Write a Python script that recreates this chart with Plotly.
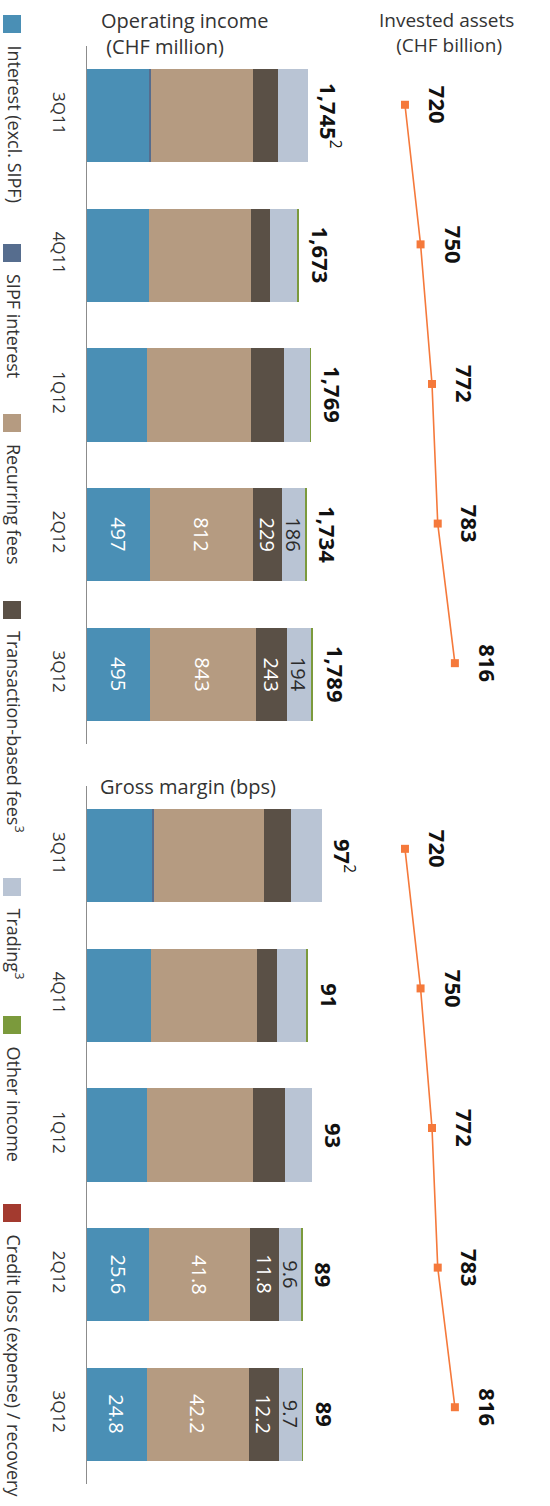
import plotly.graph_objects as go

# ---- data -------------------------------------------------------------
quarters = ["3Q11", "4Q11", "1Q12", "2Q12", "3Q12"]
labelled_quarters = ["2Q12", "3Q12"]

# Operating income, CHF million
inc_interest = [492, 490, 473, 497, 495]
inc_sipf = [14, 0, 0, 0, 0]
inc_recurring = [810, 806, 820, 812, 843]
inc_transaction = [195, 150, 268, 229, 243]
inc_trading = [234, 221, 203, 186, 194]
inc_other = [0, 6, 5, 10, 14]
inc_total = [1745, 1673, 1769, 1734, 1789]
inc_total_notes = ["2", "", "", "", ""]

# Gross margin, bps
gm_interest = [27.0, 26.4, 24.8, 25.6, 24.8]
gm_sipf = [0.8, 0, 0, 0, 0]
gm_recurring = [45.3, 43.9, 43.8, 41.8, 42.2]
gm_transaction = [11.3, 8.3, 13.2, 11.8, 12.2]
gm_trading = [12.6, 12.1, 11.2, 9.6, 9.7]
gm_other = [0, 0.3, 0, 0.2, 0.3]
gm_total = [97, 91, 93, 89, 89]
gm_total_notes = ["2", "", "", "", ""]

# Invested assets, CHF billion
invested_assets = [720, 750, 772, 783, 816]

legend_names = [
    "Interest (excl. SIPF)",
    "SIPF interest",
    "Recurring fees",
    "Transaction-based fees<sup>3</sup>",
    "Trading<sup>3</sup>",
    "Other income",
    "Credit loss (expense) / recovery",
]

# ---- styling ----------------------------------------------------------
W, H = 550, 1506
FONT = "Open Sans"
TXT = "#333333"
C_INTEREST = "#4a8fb5"
C_SIPF = "#566d8e"
C_RECURRING = "#b59b81"
C_TRANSACTION = "#5a5046"
C_TRADING = "#b9c4d4"
C_OTHER = "#7b9a3c"
C_CREDIT = "#a33a2f"
C_LINE = "#f5793b"
legend_colors = [C_INTEREST, C_SIPF, C_RECURRING, C_TRANSACTION,
                 C_TRADING, C_OTHER, C_CREDIT]


def fx(p):
    return p / W


def fy(p):
    return 1 - p / H


fig = go.Figure()

# (colour, colour of the in-bar value label or None when unlabelled)
series_style = [
    (C_INTEREST, "white"),
    (C_SIPF, None),
    (C_RECURRING, "white"),
    (C_TRANSACTION, "white"),
    (C_TRADING, "#2b2b2b"),
    (C_OTHER, None),
]

panels = [
    dict(xa="x", ya="y", lxa="x2", lya="y2", fmt="{:.0f}",
         vals=[inc_interest, inc_sipf, inc_recurring, inc_transaction,
               inc_trading, inc_other],
         total=inc_total, notes=inc_total_notes, total_fmt="{:,}"),
    dict(xa="x3", ya="y3", lxa="x4", lya="y4", fmt="{:.1f}",
         vals=[gm_interest, gm_sipf, gm_recurring, gm_transaction,
               gm_trading, gm_other],
         total=gm_total, notes=gm_total_notes, total_fmt="{}"),
]

annotations = []

for p in panels:
    base = [0.0] * len(quarters)
    for (color, tcolor), vals in zip(series_style, p["vals"]):
        fig.add_trace(go.Bar(
            y=quarters, x=vals, orientation="h",
            marker=dict(color=color, line=dict(width=0)),
            xaxis=p["xa"], yaxis=p["ya"], showlegend=False, hoverinfo="skip",
        ))
        # value labels centred inside the segments
        if tcolor:
            for i, (q, v) in enumerate(zip(quarters, vals)):
                if q in labelled_quarters:
                    annotations.append(dict(
                        x=base[i] + v / 2, y=q, xref=p["xa"], yref=p["ya"],
                        text=p["fmt"].format(v), showarrow=False, textangle=90,
                        xanchor="center", yanchor="middle",
                        font=dict(family=FONT, size=20, color=tcolor),
                    ))
        base = [b + v for b, v in zip(base, vals)]
    # invested assets line
    fig.add_trace(go.Scatter(
        y=quarters, x=invested_assets, mode="lines+markers",
        line=dict(color=C_LINE, width=1.6),
        marker=dict(symbol="square", size=8, color=C_LINE),
        xaxis=p["lxa"], yaxis=p["lya"], showlegend=False, hoverinfo="skip",
    ))
    # totals at the end of each bar
    for q, t, n in zip(quarters, p["total"], p["notes"]):
        txt = "<b>" + p["total_fmt"].format(t) + "</b>"
        if n:
            txt += "<sup>" + n + "</sup>"
        annotations.append(dict(
            x=t, y=q, xref=p["xa"], yref=p["ya"], text=txt, showarrow=False,
            textangle=90, xanchor="center", yanchor="middle", xshift=22,
            font=dict(family=FONT, size=22, color="#111111"),
        ))
    # invested assets values
    for q, v in zip(quarters, invested_assets):
        annotations.append(dict(
            x=v, y=q, xref=p["lxa"], yref=p["lya"], text=f"<b>{v}</b>",
            showarrow=False, textangle=90, xanchor="center", yanchor="middle",
            xshift=33, font=dict(family=FONT, size=22, color="#111111"),
        ))

# panel titles
annotations += [
    dict(x=fx(99), y=fy(5), xref="paper", yref="paper", xanchor="left",
         yanchor="top", align="left", showarrow=False,
         text="Operating income<br> (CHF million)",
         font=dict(family=FONT, size=20, color=TXT)),
    dict(x=fx(446), y=fy(5), xref="paper", yref="paper", xanchor="center",
         yanchor="top", align="center", showarrow=False,
         text="Invested assets<br> (CHF billion)",
         font=dict(family=FONT, size=19, color=TXT)),
    dict(x=fx(98), y=fy(771), xref="paper", yref="paper", xanchor="left",
         yanchor="top", align="left", showarrow=False,
         text="Gross margin (bps)",
         font=dict(family=FONT, size=20, color=TXT)),
]

# legend running down the left edge
legend_tops = [15, 244, 414, 601, 878, 1016, 1204]
shapes = []
for name, color, top in zip(legend_names, legend_colors, legend_tops):
    shapes.append(dict(type="rect", xref="paper", yref="paper",
                       x0=fx(3), x1=fx(21), y0=fy(top + 18), y1=fy(top),
                       fillcolor=color, line=dict(width=0)))
    annotations.append(dict(
        x=0, y=fy(top + 28), xref="paper", yref="paper", text=name,
        showarrow=False, textangle=90, xanchor="left", yanchor="top",
        font=dict(family=FONT, size=18, color=TXT),
    ))

x_dom = [fx(87), 1]
top_dom = [fy(744), fy(46)]
bot_dom = [fy(1484), fy(786)]
cat_range = [len(quarters) - 0.5, -0.5]
top_shift = 0.079
bot_shift = 0.05

yax_common = dict(type="category", categoryorder="array", categoryarray=quarters,
                  showgrid=False, zeroline=False, ticks="", tickangle=90,
                  ticklabelstandoff=13,
                  tickfont=dict(family=FONT, size=17, color=TXT),
                  showline=True, linecolor="#8c8c8c", linewidth=1)
line_y = dict(type="category", categoryorder="array", categoryarray=quarters,
              visible=False, showgrid=False)
hidden_x = dict(visible=False, showgrid=False, zeroline=False)

fig.update_layout(
    width=W, height=H, margin=dict(l=0, r=0, t=0, b=0),
    paper_bgcolor="white", plot_bgcolor="rgba(0,0,0,0)",
    barmode="stack", bargap=0.333,
    xaxis=dict(domain=x_dom, range=[0, 3660], anchor="y", **hidden_x),
    yaxis=dict(domain=top_dom, range=cat_range, anchor="x", **yax_common),
    xaxis2=dict(domain=x_dom, range=[108.5, 998.9], overlaying="x",
                anchor="y2", **hidden_x),
    yaxis2=dict(domain=top_dom, overlaying="y", anchor="x2",
                range=[cat_range[0] + top_shift, cat_range[1] + top_shift], **line_y),
    xaxis3=dict(domain=x_dom, range=[0, 191.3], anchor="y3", **hidden_x),
    yaxis3=dict(domain=bot_dom, range=cat_range, anchor="x3", **yax_common),
    xaxis4=dict(domain=x_dom, range=[108.5, 998.9], overlaying="x3",
                anchor="y4", **hidden_x),
    yaxis4=dict(domain=bot_dom, overlaying="y3", anchor="x4",
                range=[cat_range[0] + bot_shift, cat_range[1] + bot_shift], **line_y),
    annotations=annotations, shapes=shapes,
)

fig.write_html("out.html")
